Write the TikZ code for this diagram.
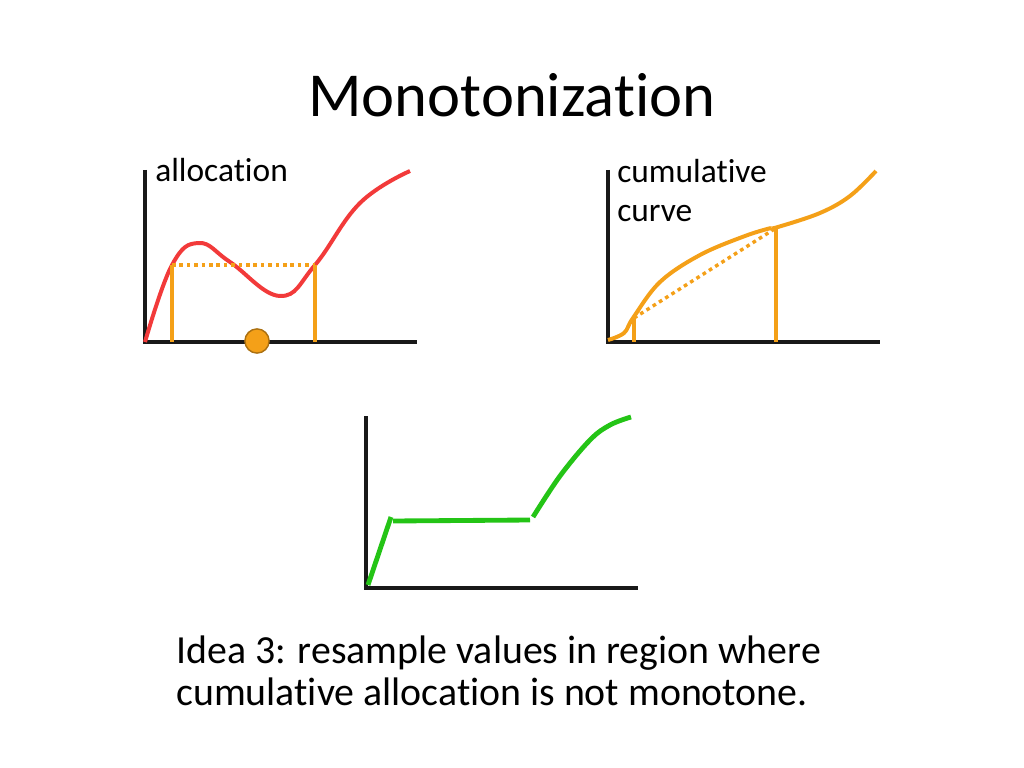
\documentclass[tikz,border=0pt]{standalone}
\usepackage{fontspec}
\setmainfont{Carlito}[Ligatures={NoCommon,NoContextual}]
\usetikzlibrary{positioning}
\definecolor{curvered}{RGB}{242,58,58}
\definecolor{curveorange}{RGB}{244,160,24}
\definecolor{curvegreen}{RGB}{36,196,22}
\begin{document}
\begin{tikzpicture}[x=0.703125pt, y=-0.703125pt,
    axis/.style={line width=3.2pt, black!90},
    curve/.style={line width=2.8pt},
    mark line/.style={curveorange, line width=2.2pt},
    dotline/.style={curveorange, line width=2.4pt, dash pattern=on 2.6pt off 2.6pt},
    label/.style={anchor=base west, inner sep=0pt, font=\fontsize{23.5}{28}\selectfont},
    body/.style={anchor=base west, inner sep=0pt, font=\fontsize{28}{34}\selectfont}]
\useasboundingbox (0,0) rectangle (1024,768);

\node[anchor=base, inner sep=0pt, font=\fontsize{44}{52}\selectfont] (title) at (512,117) {Monotonization};

% axes
\foreach \ox/\oy/\nm in {145/342/A, 608/342/C, 366/588/M}{
  \coordinate (\nm o) at (\ox,\oy);
  \draw[axis] (\ox,\oy-172) -- (\nm o) -- ++(272,0);
}

% allocation
\node[label] (alloc) at (155,182) {allocation};
\draw[curve, curvered] plot[smooth, tension=0.7] coordinates
  {(145,342) (172,265) (199,243) (230,262) (280,296) (315,265) (360,203) (410,171)};
\coordinate (a1) at (172,265);
\coordinate (a2) at (315,265);
\draw[dotline] (a1) -- (a2);
\draw[mark line] (a1) -- (a1 |- Ao);
\draw[mark line] (a2) -- (a2 |- Ao);
\node[circle, fill=curveorange, draw=curveorange!70!black, line width=1pt,
  minimum size=17pt, inner sep=0pt] (pt) at (257,341) {};

% cumulative
\node[label] (cum) at (617,183) {cumulative};
\node[label] (crv) at (617,222) {curve};
\draw[curve, curveorange] plot[smooth, tension=0.6] coordinates
  {(608,340) (624,333) (633,318) (660,282) (700,255) (745,236) (771,228)};
\draw[curve, curveorange] plot[smooth, tension=0.6] coordinates
  {(771,228) (778,227) (820,213) (850,196) (876,171)};
\coordinate (c1) at (634,318);
\coordinate (c2) at (776,228);
\draw[dotline] (c1) -- (c2);
\draw[mark line] (c1) -- (c1 |- Co);
\draw[mark line, line width=2.6pt] (c2) -- (c2 |- Co);

% monotone
\draw[curve, curvegreen, line width=3.4pt] (368,585) -- (391,517);
\draw[curve, curvegreen, line width=3.4pt] (393,521) -- (530,520);
\draw[curve, curvegreen, line width=3.4pt] plot[smooth, tension=0.6] coordinates
  {(533,517) (560,476) (590,440) (610,425) (631,417)};

\node[body] (idea1) at (176,663) {Idea 3: resample values in region where};
\node[body] (idea2) at (176,705) {cumulative allocation is not monotone.};
\end{tikzpicture}
\end{document}
